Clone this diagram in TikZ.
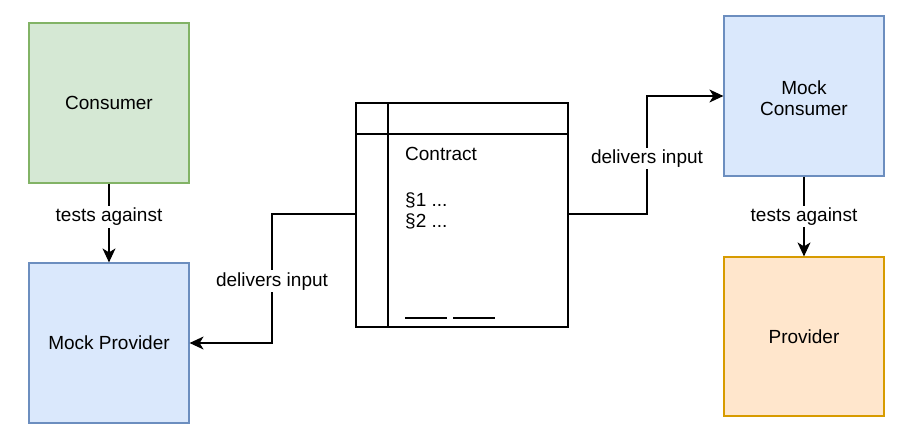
\documentclass[tikz,border=0pt]{standalone}
\usepackage{fontspec}
\setmainfont{Liberation Sans}
\usetikzlibrary{arrows.meta}
\definecolor{gfill}{HTML}{D5E8D4}
\definecolor{gline}{HTML}{82B366}
\definecolor{bfill}{HTML}{DAE8FC}
\definecolor{bline}{HTML}{6C8EBF}
\definecolor{ofill}{HTML}{FFE6CC}
\definecolor{oline}{HTML}{D79B00}
\newcommand{\fnt}{\fontsize{19pt}{21pt}\selectfont}
\tikzset{
  box/.style={draw, line width=1.2pt, minimum width=160pt, minimum height=160pt, inner sep=0pt, font=\fnt, align=center},
  green box/.style={box, fill=gfill, draw=gline},
  blue box/.style={box, fill=bfill, draw=bline},
  orange box/.style={box, fill=ofill, draw=oline},
  conn/.style={draw, line width=1.2pt, -{Stealth[length=14pt,width=13pt,inset=4pt]}},
  lbl/.style={fill=white, inner sep=2pt, font=\fnt},
  txt/.style={inner sep=0pt, anchor=west, font=\fnt},
}
\begin{document}
\begin{tikzpicture}[x=1pt,y=-1pt]
\useasboundingbox (0,0) rectangle (918,440);
\node[green box] (cons) at (109,103) {Consumer};
\node[blue box] (mprov) at (109,343) {Mock Provider};
\node[blue box] (mcons) at (804,96) {};
\node[font=\fnt, align=center, inner sep=0pt] (mconst) at (804,98) {Mock\\Consumer};
\node[orange box, minimum height=159pt] (prov) at (804,336.5) {Provider};
% contract
\node[draw, line width=1.2pt, minimum width=212pt, minimum height=224pt, inner sep=0pt] (con) at (462,215) {};
\draw[line width=1.2pt] (356,134) -- (568,134);
\draw[line width=1.2pt] (388,103) -- (388,327);
\node[txt] (ct) at (405,154) {Contract};
\node[txt] (p1) at (405,200) {§1 ...};
\node[txt] (p2) at (405,221) {§2 ...};
\coordinate (u1a) at (405,318); \coordinate (u1b) at (447,318);
\coordinate (u2a) at (453,318); \coordinate (u2b) at (495,318);
\draw[line width=1.2pt] (u1a) -- (u1b) (u2a) -- (u2b);
% connectors
\draw[conn] (cons.south) -- node[lbl, pos=0.42] {tests against} (mprov.north);
\draw[conn] (mcons.south) -- node[lbl, pos=0.5] {tests against} (prov.north);
\coordinate (cl) at (356,214);
\coordinate (cr) at (568,214);
\draw[conn] (cl) -- (272,214) -- node[lbl, pos=0.52] {delivers input} (272,343) -- (mprov.east);
\draw[conn] (cr) -- (647,214) -- node[lbl, pos=0.47] {delivers input} (647,96) -- (mcons.west);
\end{tikzpicture}
\end{document}
